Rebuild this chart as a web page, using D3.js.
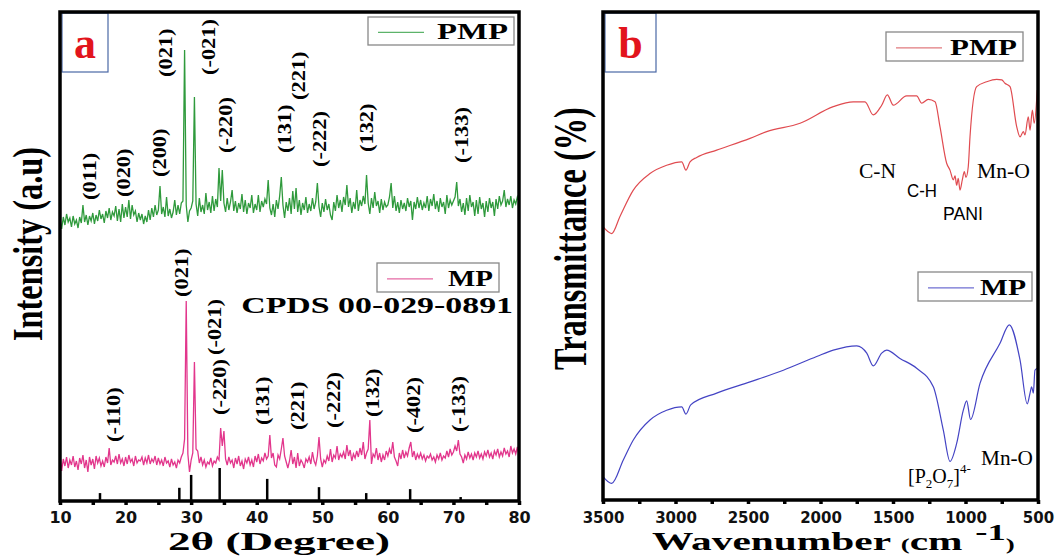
<!DOCTYPE html>
<html>
<head>
<meta charset="utf-8">
<script src="https://cdn.jsdelivr.net/npm/d3@7"></script>
<style>
  body { margin: 0; background: #fff; }
</style>
</head>
<body>
<div id="chart"></div>
<script>
// ---- Panel a: XRD, sampled every 0.25 deg from 10 to 80 (2-theta) ----
const twoThetaStart = 10;
const twoThetaStep = 0.25;

// PMP intensity (a.u.), one row per 5 degrees
const xrdPMP = [
  282,272,284,276,287,279,283,274,285,277,281,273,284,278,296,279,286,276,285,280,
  288,277,286,280,291,282,287,278,290,283,293,281,289,285,295,280,292,279,297,283,
  294,284,301,282,296,286,290,279,288,281,287,277,285,279,291,281,293,284,296,286,
  291,315,287,294,284,304,285,292,283,289,301,286,296,287,298,300,451,296,279,290,
  293,300,404,297,285,303,289,296,287,308,291,299,288,305,290,302,294,333,300,331,
  298,289,303,291,299,311,290,300,288,298,292,307,289,301,287,298,293,306,288,297,
  291,306,289,300,294,302,297,321,293,286,297,284,301,292,305,324,296,283,299,290,
  303,287,310,292,313,289,301,286,298,291,304,288,297,290,303,292,299,318,294,284,
  298,289,302,291,297,286,281,299,290,306,293,301,289,304,296,316,294,303,288,299,
  292,311,290,301,295,305,297,326,298,287,303,293,309,295,300,288,302,291,299,294,
  296,304,318,293,305,290,299,288,301,292,298,290,303,294,300,281,299,292,304,293,
  301,291,298,293,305,290,302,295,307,292,300,289,303,294,299,287,306,293,301,296,
  300,304,319,295,302,289,298,286,303,290,306,294,299,285,301,287,304,292,298,284,
  300,289,303,293,299,285,302,292,305,296,300,311,294,302,296,305,293,301,297,304,299
];

// MP intensity (a.u.)
const xrdMP = [
  46,30,42,35,44,33,41,36,45,34,40,31,43,37,46,33,41,29,44,36,
  42,32,45,38,43,35,40,34,44,38,53,36,41,39,45,37,47,38,42,35,
  44,37,46,39,42,35,45,38,41,40,44,36,43,38,46,37,42,39,45,36,
  43,37,41,35,44,38,40,34,42,36,39,33,41,38,44,48,62,200,47,29,
  41,48,139,52,50,38,44,36,41,34,39,37,43,35,40,38,44,41,73,55,
  70,42,36,44,38,41,33,43,37,45,35,40,32,42,38,44,36,41,34,45,
  39,47,37,43,40,48,42,45,66,43,48,36,34,46,42,52,63,45,39,33,
  40,51,37,44,33,48,35,41,38,33,42,39,44,37,49,40,36,45,64,42,
  34,41,38,45,40,52,39,46,43,55,41,47,44,49,42,56,45,51,40,47,
  43,50,44,53,46,59,42,48,52,81,37,47,44,53,41,48,39,46,41,50,
  45,52,47,59,44,40,35,48,42,51,43,49,45,53,59,44,50,41,47,43,
  48,42,46,40,45,43,47,41,44,39,46,42,48,41,45,43,50,44,52,46,
  49,55,50,61,47,44,38,46,42,49,43,47,41,48,44,50,43,47,42,49,
  45,51,44,48,42,50,46,52,44,49,45,53,47,50,44,55,48,52,47,54,46
];

// CPDS 00-029-0891 reference lines: [2theta, relative intensity]
const cpdsLines = [[16.1,24],[28.2,40],[30.0,79],[34.35,100],[41.6,67],[49.5,42],[56.7,24],[63.4,36],[71.1,12]];

// hkl labels: [text, 2theta, intensity level where label starts]
const pmpHkl = [
  ["(011)",14.6,301],["(020)",19.7,304],["(200)",25.2,324],["(021)",26.1,424],
  ["(-021)",32.7,426],["(-220)",35.3,348],["(131)",44.3,348],["(221)",46.4,401],
  ["(-222)",49.6,334],["(132)",56.8,349],["(-133)",71.3,338]
];
const mpHkl = [
  ["(021)",28.6,204],["(-110)",18.2,59],["(-021)",33.6,146],["(-220)",34.4,86],
  ["(131)",41.0,76],["(221)",46.3,71],["(-222)",51.8,73],["(132)",57.7,84],
  ["(-402)",64.0,68],["(-133)",70.8,69]
];

const xrdTicks = [10,20,30,40,50,60,70,80];
const xrdMinorTicks = [15,25,35,45,55,65,75];

// ---- Panel b: FTIR, [wavenumber cm-1, transmittance %] ----
const ftirPMP = [
  [3500,56.0],[3440,54.6],[3383,58.1],[3291,63.5],[3176,66.9],[3061,68.6],[2957,69.3],
  [2928,67.6],[2900,69.3],[2854,70.2],[2716,71.7],[2486,74.1],[2371,75.5],[2141,77.2],
  [1912,80.6],[1774,81.6],[1693,81.6],[1636,78.9],[1578,80.9],[1539,83.0],[1498,80.9],
  [1406,82.8],[1337,82.8],[1302,81.3],[1257,82.1],[1210,81.6],[1176,76.5],[1130,69.0],
  [1107,67.6],[1084,65.6],[1072,66.4],[1061,64.5],[1050,65.9],[1038,63.5],[1022,65.6],
  [1008,67.3],[997,66.1],[981,68.3],[969,74.4],[923,84.7],[854,85.7],[785,86.2],
  [750,86.1],[728,85.4],[693,84.7],[647,76.5],[624,74.4],[601,75.5],[590,74.8],
  [567,78.5],[555,75.8],[539,79.9],[526,77.2],[505,84.0]
];
const ftirMP = [
  [3500,4.8],[3440,3.4],[3360,8.2],[3291,12.3],[3176,16.4],[3061,18.4],[2957,19.1],
  [2928,17.6],[2895,19.5],[2716,21.9],[2486,24.2],[2256,26.6],[2026,29.4],[1912,30.7],
  [1750,31.6],[1681,30.1],[1636,27.5],[1578,30.1],[1544,30.7],[1452,29.0],[1337,27.0],
  [1222,23.2],[1153,14.3],[1107,7.9],[1061,11.6],[1015,18.4],[992,20.3],[965,16.5],
  [900,23.9],[762,32.1],[698,35.9],[624,28.7],[574,19.7],[555,21.9],[544,23.2],
  [532,21.9],[521,26.6],[505,27.0]
];
const ftirTicks = [3500,3000,2500,2000,1500,1000,500];
const ftirMinorTicks = [3250,2750,2250,1750,1250,750];

// ---- drawing ----
const SERIF = "'Liberation Serif','Times New Roman',serif";
const SANS = "'Liberation Sans',Arial,sans-serif";
const TICKFONT = "'DejaVu Sans',sans-serif";

const svg = d3.select("#chart").append("svg")
  .attr("width", 1055).attr("height", 556);

// text helper: stretch is a horizontal scale, length forces a width
function addText(parent, o) {
  const t = parent.append("text")
    .attr("font-family", o.family || SERIF)
    .attr("font-weight", o.weight || "bold")
    .attr("font-size", o.size)
    .attr("fill", o.fill || "#000")
    .attr("text-anchor", o.anchor || "start")
    .attr("dy", o.dy || 0)
    .text(o.text);
  let sx = o.stretch || 1;
  if (o.length) sx = o.length / t.node().getBBox().width;
  t.attr("transform", `translate(${o.x},${o.y}) rotate(${o.rotate || 0}) scale(${sx},1)`);
  return t;
}

function bottomAxis(g, x, y0, major, minor, size, pad) {
  const ax = g.append("g").attr("transform", `translate(0,${y0})`)
    .call(d3.axisBottom(x).tickValues(major).tickFormat(d3.format("d"))
      .tickSize(4).tickPadding(pad).tickSizeOuter(0));
  ax.select(".domain").remove();
  ax.selectAll(".tick line").attr("stroke-width", 3.5);
  ax.selectAll(".tick text").attr("font-family", TICKFONT).attr("font-weight", "bold")
    .attr("font-size", size).attr("fill", "#111");
  const mi = g.append("g").attr("transform", `translate(0,${y0})`)
    .call(d3.axisBottom(x).tickValues(minor).tickSize(4).tickFormat("").tickSizeOuter(0));
  mi.select(".domain").remove();
  mi.selectAll(".tick line").attr("stroke-width", 3.5);
}

function frame(g, x, y) {
  const [x0, x1] = x.range(), [y0, y1] = y.range();
  g.append("rect")
    .attr("x", Math.min(x0, x1)).attr("y", Math.min(y0, y1))
    .attr("width", Math.abs(x1 - x0)).attr("height", Math.abs(y1 - y0))
    .attr("fill", "none").attr("stroke", "#000").attr("stroke-width", 3.5);
}

function legend(g, x, y, w, h, color, name, textLen) {
  g.append("rect").attr("x", x).attr("y", y).attr("width", w).attr("height", h)
    .attr("fill", "#fff").attr("stroke", "#888").attr("stroke-width", 1.3);
  g.append("line").attr("x1", x + 10).attr("x2", x + 56)
    .attr("y1", y + h * 0.55).attr("y2", y + h * 0.55)
    .attr("stroke", color).attr("stroke-width", 1.2);
  addText(g, {text: name, x: x + w - 6, y: y + h - 6, size: 24, anchor: "end", length: textLen});
}

function panelTag(g, x, y, w, h, letter) {
  g.append("rect").attr("x", x).attr("y", y).attr("width", w).attr("height", h)
    .attr("fill", "#fff").attr("stroke", "#4a68a6").attr("stroke-width", 1.2);
  addText(g, {text: letter, x: x + w / 2, y: y + 45, size: 44, anchor: "middle", fill: "#e2141c"});
}

// ---------- panel a ----------
const gA = svg.append("g");
const xA = d3.scaleLinear().domain([10, 80]).range([60, 519]);
const yA = d3.scaleLinear().domain([0, 489]).range([501, 12]);
const stickLen = d3.scaleLinear().domain([0, 100]).range([0, 33]);

const thetaOf = i => twoThetaStart + i * twoThetaStep;
const lineA = d3.line().x((d, i) => xA(thetaOf(i))).y(d => yA(d));

gA.append("path").datum(xrdPMP).attr("d", lineA)
  .attr("fill", "none").attr("stroke", "#2f9a3c").attr("stroke-width", 1.3);
gA.append("path").datum(xrdMP).attr("d", lineA)
  .attr("fill", "none").attr("stroke", "#e2368c").attr("stroke-width", 1.3);

gA.selectAll("line.cpds").data(cpdsLines).join("line")
  .attr("class", "cpds")
  .attr("x1", d => xA(d[0])).attr("x2", d => xA(d[0]))
  .attr("y1", yA(0)).attr("y2", d => yA(0) - stickLen(d[1]))
  .attr("stroke", "#000").attr("stroke-width", 2.5);

for (const [txt, th, lev] of pmpHkl.concat(mpHkl)) {
  addText(gA, {text: txt, x: xA(th), y: yA(lev), rotate: -90, size: 19, dy: "0.32em", stretch: 1.18});
}

panelTag(gA, 62, 13, 46, 59, "a");
legend(gA, 368, 17, 146, 28, "#5cb36a", "PMP", 71);
legend(gA, 377, 263, 122, 29, "#e56aa4", "MP", 45);
addText(gA, {text: "CPDS 00-029-0891", x: 513, y: 313, size: 23, anchor: "end", length: 272});

bottomAxis(gA, xA, yA(0), xrdTicks, xrdMinorTicks, 16, 7);
frame(gA, xA, yA);

addText(gA, {text: "Intensity (a.u)", x: 42, y: 341, rotate: -90, size: 42, length: 194});
addText(gA, {text: "2θ (Degree)", x: 168, y: 549.5, size: 26, length: 222});

// ---------- panel b ----------
const gB = svg.append("g");
const xB = d3.scaleLinear().domain([3500, 500]).range([603, 1038]);
const yB = d3.scaleLinear().domain([0, 100]).range([500, 12]);
const lineB = d3.line().x(d => xB(d[0])).y(d => yB(d[1])).curve(d3.curveMonotoneX);

gB.append("path").datum(ftirPMP).attr("d", lineB)
  .attr("fill", "none").attr("stroke", "#e04b50").attr("stroke-width", 1.2);
gB.append("path").datum(ftirMP).attr("d", lineB)
  .attr("fill", "none").attr("stroke", "#4444c4").attr("stroke-width", 1.2);

panelTag(gB, 605, 13, 51, 59, "b");
legend(gB, 886, 32, 137, 29, "#e07a7e", "PMP", 67);
legend(gB, 918, 272, 114, 29, "#6f6fd2", "MP", 46);

// band assignments
addText(gB, {text: "C-N", x: 859, y: 178, size: 20, weight: "normal", length: 37});
addText(gB, {text: "C-H", x: 907, y: 197, size: 18, weight: "normal", family: SANS, length: 30});
addText(gB, {text: "PANI", x: 943, y: 220, size: 18, weight: "normal", family: SANS, length: 40});
addText(gB, {text: "Mn-O", x: 977, y: 178, size: 20, weight: "normal", length: 53});
addText(gB, {text: "Mn-O", x: 981, y: 465, size: 20, weight: "normal", length: 52});

const p2o7 = gB.append("text").attr("font-family", SERIF).attr("font-size", 20)
  .attr("transform", "translate(908,483)");
p2o7.append("tspan").text("[P");
p2o7.append("tspan").attr("font-size", 13).attr("dy", 5).text("2");
p2o7.append("tspan").attr("dy", -5).text("O");
p2o7.append("tspan").attr("font-size", 13).attr("dy", 5).text("7");
p2o7.append("tspan").attr("dy", -5).text("]");
p2o7.append("tspan").attr("font-size", 13).attr("dy", -10).text("4-");

bottomAxis(gB, xB, yB(0), ftirTicks, ftirMinorTicks, 15, 8);
frame(gB, xB, yB);

addText(gB, {text: "Transmittance (%)", x: 586, y: 370, rotate: -90, size: 46, length: 263});

const wn = gB.append("text").attr("font-family", SERIF).attr("font-weight", "bold")
  .attr("font-size", 26);
wn.append("tspan").text("Wavenumber ");
wn.append("tspan").attr("font-size", 17).text("(");
wn.append("tspan").text("cm");
wn.append("tspan").attr("font-size", 23).attr("dx", 8).attr("dy", -10).text("-1");
wn.append("tspan").attr("font-size", 17).attr("dy", 10).text(")");
const wnScale = 363 / wn.node().getBBox().width;
wn.attr("transform", `translate(652,549.5) scale(${wnScale},1)`);
</script>
</body>
</html>
